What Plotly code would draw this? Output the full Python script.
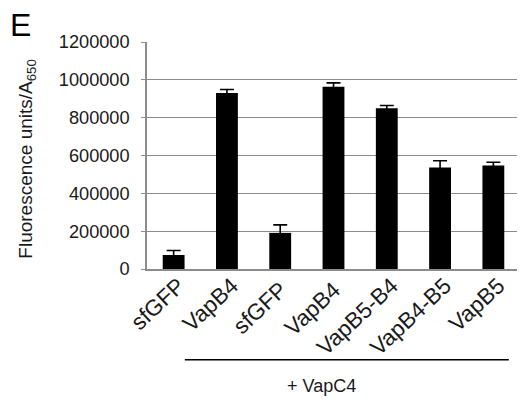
import plotly.graph_objects as go

categories = ["sfGFP", "VapB4", "sfGFP ", "VapB4 ", "VapB5-B4", "VapB4-B5", "VapB5"]
values = [74000, 931000, 191000, 963000, 850000, 536000, 547000]
errors = [24000, 18000, 42000, 21000, 14000, 36000, 17000]
y_ticks = [0, 200000, 400000, 600000, 800000, 1000000, 1200000]

FONT = "Arial, Liberation Sans, Helvetica, sans-serif"
W, H = 525, 407
OFF = 8  # default page body margin shifts the figure by 8px
# target plot area in page pixels
PL, PR, PT, PB = 147, 520, 42.3, 269.3
L = PL - OFF
R = W - (PR - OFF)
T = PT - OFF
B = H - (PB - OFF)
PW = PR - PL
PH = PB - PT

def px_x(p):
    return (p - PL) / PW

def px_y(p):
    return (PB - p) / PH

fig = go.Figure()
fig.add_trace(go.Bar(
    x=categories, y=values,
    marker=dict(color="black", line=dict(width=0)),
    error_y=dict(type="data", array=errors, visible=True, color="black",
                 thickness=1.6, width=7),
    width=0.41,
))

fig.update_layout(
    width=W, height=H,
    margin=dict(l=L, r=R, t=T, b=B, pad=0),
    plot_bgcolor="white", paper_bgcolor="white",
    showlegend=False,
    font=dict(family=FONT, size=18, color="#1a1a1a"),
    xaxis=dict(
        type="category", range=[-0.5, 6.5], automargin=False,
        tickangle=-43, tickfont=dict(size=22.5),
        ticklabelshift=5, ticklabelstandoff=-7,
        showline=True, linecolor="#8c8c8c", linewidth=1.5,
        ticks="", showgrid=False,
    ),
    yaxis=dict(
        range=[0, 1200000], tickvals=y_ticks, tickformat="d", automargin=False,
        tickfont=dict(size=18.2), ticklabelstandoff=8,
        showline=True, linecolor="#8c8c8c", linewidth=1.5,
        ticks="outside", ticklen=4, tickcolor="#8c8c8c", tickwidth=1.3,
        showgrid=True, gridcolor="#8c8c8c", gridwidth=1.3,
        zeroline=False,
    ),
    shapes=[dict(type="line", xref="x", yref="paper", x0=0.21, x1=6.29,
                 y0=px_y(360), y1=px_y(360), line=dict(color="black", width=1.5))],
    annotations=[
        dict(text="Fluorescence units/A<sub>650</sub>", xref="paper", yref="paper",
             x=px_x(27), y=px_y(159), textangle=-90, showarrow=False,
             xanchor="center", yanchor="middle", font=dict(size=19)),
        dict(text="+ VapC4", xref="x", yref="paper", x=2.78, y=px_y(386),
             showarrow=False, font=dict(size=18), xanchor="center", yanchor="middle"),
        dict(text="E", xref="paper", yref="paper", x=px_x(8), y=px_y(25),
             xanchor="left", yanchor="middle", showarrow=False,
             font=dict(size=32, color="black")),
    ],
)

fig.write_html("out.html")
